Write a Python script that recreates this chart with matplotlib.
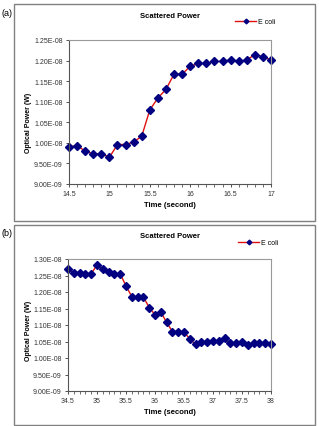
import matplotlib
matplotlib.use("Agg")
import matplotlib.pyplot as plt
from matplotlib.patches import Rectangle
from matplotlib.ticker import MultipleLocator, FuncFormatter

# panel (a)
time_a = [14.5, 14.6, 14.7, 14.8, 14.9, 15.0, 15.1, 15.2, 15.3, 15.4, 15.5, 15.6, 15.7,
          15.8, 15.9, 16.0, 16.1, 16.2, 16.3, 16.4, 16.5, 16.6, 16.7, 16.8, 16.9, 17.0]
power_a = [9.91e-9, 9.93e-9, 9.80e-9, 9.73e-9, 9.74e-9, 9.65e-9, 9.96e-9, 9.96e-9, 1.002e-8,
           1.016e-8, 1.080e-8, 1.109e-8, 1.130e-8, 1.167e-8, 1.167e-8, 1.186e-8, 1.193e-8,
           1.193e-8, 1.198e-8, 1.198e-8, 1.202e-8, 1.198e-8, 1.2015e-8, 1.2145e-8, 1.2096e-8,
           1.2015e-8]

# panel (b)
time_b = [34.5, 34.6, 34.7, 34.8, 34.9, 35.0, 35.1, 35.2, 35.3, 35.4, 35.5, 35.6, 35.7, 35.8,
          35.9, 36.0, 36.1, 36.2, 36.3, 36.4, 36.5, 36.6, 36.7, 36.8, 36.9, 37.0, 37.1, 37.2,
          37.3, 37.4, 37.5, 37.6, 37.7, 37.8, 37.9, 38.0]
power_b = [1.270e-8, 1.259e-8, 1.259e-8, 1.255e-8, 1.255e-8, 1.282e-8, 1.270e-8, 1.261e-8,
           1.255e-8, 1.255e-8, 1.2185e-8, 1.186e-8, 1.186e-8, 1.185e-8, 1.153e-8, 1.131e-8,
           1.139e-8, 1.1085e-8, 1.080e-8, 1.080e-8, 1.080e-8, 1.057e-8, 1.042e-8, 1.048e-8,
           1.048e-8, 1.052e-8, 1.052e-8, 1.062e-8, 1.044e-8, 1.044e-8, 1.050e-8, 1.040e-8,
           1.045e-8, 1.044e-8, 1.044e-8, 1.042e-8]

W, H = 319, 427
plt.rcParams['font.family'] = ['Liberation Sans', 'DejaVu Sans']

fig = plt.figure(figsize=(W / 100, H / 100), dpi=100)


def px(x0, y0, x1, y1):
    # pixel box -> figure fraction rect
    return [x0 / W, 1 - y1 / H, (x1 - x0) / W, (y1 - y0) / H]


def sci(v, pos):
    return "%.2E" % v


def panel(rect, frame, t, p, xlim, ylim, label, lab_xy, title_y, ylab_y, leg_xy):
    fig.patches.append(Rectangle((frame[0] / W, 1 - frame[3] / H),
                                 (frame[2] - frame[0]) / W, (frame[3] - frame[1]) / H,
                                 transform=fig.transFigure, fill=False,
                                 edgecolor="#808080", linewidth=1.0))
    ax = fig.add_axes(rect)
    ax.plot(t, p, color="#e01010", linewidth=1.0, marker="D", markersize=4.0,
            markerfacecolor="#000080", markeredgecolor="#000080", clip_on=False,
            label="E coli")
    ax.set_xlim(*xlim)
    ax.set_ylim(*ylim)
    ax.xaxis.set_major_locator(MultipleLocator(0.5))
    ax.yaxis.set_major_locator(MultipleLocator(0.05e-8))
    ax.xaxis.set_major_formatter(FuncFormatter(lambda v, pos: "%g" % round(v, 2)))
    ax.yaxis.set_major_formatter(FuncFormatter(sci))
    ax.tick_params(labelsize=5, length=2.5, width=0.6, pad=2, colors="#333333")
    ax.xaxis.set_minor_locator(MultipleLocator(0.1))
    ax.tick_params(axis="x", which="minor", length=2, width=0.5, colors="#333333")
    for s in ["top", "right"]:
        ax.spines[s].set_color("#999999")
    for s in ["left", "bottom"]:
        ax.spines[s].set_color("#555555")
    for s in ax.spines.values():
        s.set_linewidth(0.8)
    ax.set_xlabel("Time (second)", fontsize=5.5, fontweight="bold", labelpad=3)
    fig.text(28 / W, 1 - ylab_y / H, "Optical Power (W)", rotation=90, fontsize=5,
             fontweight="bold", ha="center", va="center")
    fig.text(170 / W, 1 - title_y / H, "Scattered Power", fontsize=5.5, fontweight="bold",
             ha="center", va="center")
    fig.text(lab_xy[0] / W, 1 - lab_xy[1] / H, label, fontsize=6.5, ha="left", va="center")
    ax.legend(loc="center left", bbox_to_anchor=(leg_xy[0] / W, 1 - leg_xy[1] / H),
              bbox_transform=fig.transFigure, frameon=False, fontsize=5,
              handlelength=3.0, handletextpad=0.3, borderpad=0, markerscale=0.6)
    return ax


panel(px(69, 41, 271, 185), (14, 5, 315, 222), time_a, power_a, (14.5, 17), (9.0e-9, 1.25e-8),
      "(a)", (1, 13), 16, 123, (232, 23))
panel(px(68, 260, 271, 392), (14, 226, 315, 426), time_b, power_b, (34.5, 38), (9.0e-9, 1.30e-8),
      "(b)", (1, 233), 237, 331, (235, 244))

fig.savefig("out.png", dpi=100)
